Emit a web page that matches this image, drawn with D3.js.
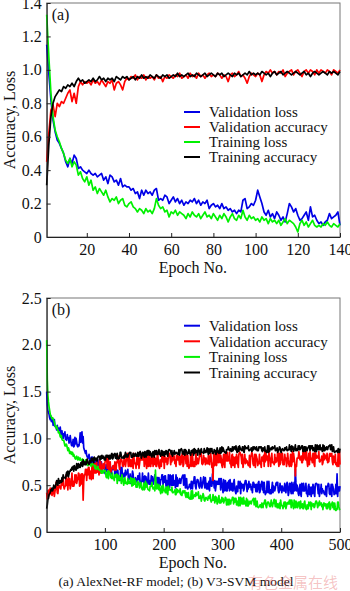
<!DOCTYPE html>
<html>
<head>
<meta charset="utf-8">
<script src="https://cdn.jsdelivr.net/npm/d3@7/dist/d3.min.js"></script>
<style>
  html, body { margin: 0; padding: 0; background: #fff; }
  svg { display: block; }
  text { font-family: "Liberation Serif", "Times New Roman", serif; fill: #111; }
</style>
</head>
<body>
<div id="chart"></div>
<script>
// ---------------- DATA ----------------
const seriesNames = ["Validation loss", "Validation accuracy", "Training loss", "Training accuracy"];
const seriesColors = ["#0000e6", "#ff0000", "#00f000", "#000000"];

const xTicksA = [20, 40, 60, 80, 100, 120, 140];
const yTicksA = [0, 0.2, 0.4, 0.6, 0.8, 1.0, 1.2, 1.4];
const xTicksB = [100, 200, 300, 400, 500];
const yTicksB = [0, 0.5, 1.0, 1.5, 2.0, 2.5];

// Panel (a): AlexNet-RF, epochs 1..140
const valLossA = [
1.15,0.98,0.82,0.7,0.63,0.58,0.56,0.53,0.5,0.45,
0.42,0.47,0.44,0.49,0.47,0.41,0.42,0.4,0.39,0.38,
0.4,0.38,0.37,0.38,0.36,0.37,0.38,0.34,0.36,0.32,
0.37,0.36,0.33,0.34,0.31,0.35,0.3,0.31,0.3,0.3,
0.28,0.29,0.26,0.27,0.23,0.28,0.25,0.28,0.26,0.27,
0.25,0.28,0.29,0.22,0.23,0.22,0.25,0.24,0.2,0.22,
0.24,0.21,0.23,0.2,0.22,0.19,0.21,0.2,0.22,0.21,
0.23,0.2,0.22,0.19,0.21,0.2,0.22,0.17,0.19,0.2,
0.18,0.19,0.17,0.2,0.17,0.18,0.16,0.17,0.15,0.16,
0.14,0.16,0.15,0.22,0.23,0.17,0.18,0.2,0.19,0.22,
0.28,0.24,0.2,0.15,0.13,0.16,0.12,0.14,0.11,0.15,
0.13,0.1,0.12,0.09,0.14,0.2,0.18,0.15,0.17,0.13,
0.1,0.11,0.13,0.15,0.1,0.18,0.12,0.13,0.1,0.08,
0.09,0.07,0.09,0.1,0.14,0.11,0.12,0.13,0.15,0.07];
const valAccA = [
0.45,0.62,0.76,0.79,0.72,0.8,0.78,0.81,0.8,0.83,
0.86,0.88,0.81,0.86,0.8,0.9,0.93,0.91,0.93,0.92,
0.93,0.91,0.94,0.92,0.93,0.91,0.94,0.92,0.9,0.93,
0.92,0.94,0.88,0.92,0.93,0.91,0.88,0.93,0.95,0.94,
0.96,0.95,0.97,0.94,0.96,0.95,0.97,0.94,0.96,0.95,
0.96,0.94,0.97,0.95,0.96,0.93,0.96,0.95,0.97,0.96,
0.95,0.97,0.96,0.98,0.95,0.96,0.97,0.95,0.98,0.96,
0.97,0.95,0.98,0.96,0.97,0.95,0.97,0.98,0.96,0.97,
0.96,0.98,0.97,0.95,0.97,0.96,0.93,0.97,0.98,0.96,
0.97,0.99,0.96,0.97,0.95,0.92,0.96,0.98,0.97,0.96,
0.98,0.97,0.93,0.97,0.99,0.98,1.0,0.98,0.99,0.97,
0.99,0.98,1.0,0.96,0.98,0.99,1.0,0.97,0.99,1.0,
0.98,0.96,0.99,1.0,0.98,1.0,0.99,0.97,1.0,0.98,
1.0,0.99,0.98,1.0,0.99,0.97,1.0,0.99,0.98,1.0];
const trainLossA = [
1.33,1.08,0.86,0.72,0.64,0.6,0.57,0.53,0.5,0.46,
0.44,0.47,0.42,0.45,0.43,0.37,0.39,0.35,0.33,0.36,
0.31,0.34,0.28,0.3,0.26,0.29,0.27,0.25,0.28,0.24,
0.21,0.23,0.22,0.24,0.2,0.22,0.23,0.19,0.18,0.2,
0.21,0.18,0.17,0.15,0.17,0.16,0.14,0.17,0.15,0.16,
0.14,0.17,0.23,0.19,0.17,0.18,0.15,0.16,0.12,0.15,
0.14,0.16,0.13,0.15,0.14,0.13,0.11,0.14,0.12,0.15,
0.13,0.12,0.14,0.11,0.13,0.15,0.12,0.13,0.11,0.14,
0.12,0.1,0.13,0.11,0.14,0.12,0.09,0.12,0.14,0.11,
0.1,0.13,0.11,0.16,0.12,0.1,0.13,0.11,0.12,0.1,
0.11,0.09,0.12,0.1,0.11,0.08,0.11,0.09,0.1,0.08,
0.1,0.07,0.09,0.11,0.08,0.1,0.09,0.08,0.06,0.03,
0.08,0.1,0.07,0.09,0.06,0.08,0.1,0.07,0.06,0.07,
0.06,0.08,0.07,0.09,0.07,0.06,0.08,0.07,0.06,0.08];
const trainAccA = [
0.31,0.55,0.72,0.8,0.84,0.86,0.88,0.87,0.9,0.89,
0.91,0.9,0.92,0.9,0.93,0.95,0.93,0.94,0.92,0.93,
0.94,0.93,0.95,0.93,0.94,0.96,0.94,0.95,0.93,0.95,
0.94,0.95,0.93,0.96,0.95,0.94,0.96,0.95,0.96,0.94,
0.95,0.96,0.94,0.96,0.95,0.97,0.95,0.96,0.95,0.97,
0.96,0.95,0.97,0.96,0.95,0.97,0.96,0.97,0.95,0.96,
0.97,0.96,0.98,0.96,0.97,0.96,0.97,0.98,0.96,0.97,
0.96,0.98,0.97,0.96,0.97,0.98,0.96,0.97,0.98,0.97,
0.96,0.98,0.97,0.98,0.96,0.97,0.98,0.97,0.96,0.98,
0.97,0.98,0.96,0.97,0.98,0.97,0.99,0.97,0.98,0.97,
0.98,0.97,0.99,0.98,0.97,0.98,0.96,0.98,0.99,0.97,
0.98,0.99,0.97,0.98,0.99,0.98,0.97,0.98,0.99,0.98,
0.97,0.98,0.99,0.97,0.98,0.96,0.98,0.99,0.98,0.97,
0.98,0.99,0.98,0.97,0.99,0.98,0.99,0.98,0.97,0.99];

// Panel (b): V3-SVM, epochs 1..500
const valLossB = [
1.5,1.36,1.3,1.27,1.26,1.22,1.2,1.24,1.18,1.2,
1.2,1.14,1.18,1.2,1.13,1.12,1.12,1.09,1.14,1.09,
1.11,1.08,1.09,1.12,1.06,1.01,1.08,1.0,1.0,1.05,
1.03,1.07,.99,.99,.98,1.04,1.0,1.01,.95,.97,
1.03,.98,.93,.92,.94,.99,.91,.92,1.01,.94,
1.0,.96,.92,.91,.93,.92,.98,1.06,.96,1.04,
1.07,.95,1.02,.9,.88,.86,.84,.87,.82,.8,
.80,.79,.83,.77,.73,.76,.80,.73,.80,.77,
.74,.74,.70,.78,.77,.68,.67,.77,.73,.71,
.71,.71,.70,.75,.68,.68,.68,.68,.69,.63,
.62,.72,.65,.70,.67,.69,.65,.72,.62,.64,
.62,.68,.70,.67,.68,.70,.62,.59,.67,.65,
.58,.66,.57,.58,.55,.57,.69,.55,.69,.57,
.59,.61,.63,.59,.66,.61,.63,.63,.67,.56,
.57,.58,.62,.52,.57,.58,.65,.62,.54,.52,
.56,.58,.56,.55,.53,.60,.60,.56,.63,.53,
.51,.54,.54,.63,.54,.59,.49,.60,.52,.59,
.49,.52,.55,.63,.51,.55,.51,.52,.60,.54,
.59,.51,.54,.56,.61,.59,.48,.48,.58,.58,
.48,.58,.53,.50,.56,.56,.61,.61,.50,.59,
.53,.60,.60,.49,.55,.50,.47,.61,.50,.47,
.61,.57,.50,.60,.50,.61,.50,.55,.53,.47,
.61,.49,.58,.49,.55,.52,.57,.53,.52,.57,
.58,.60,.61,.50,.55,.61,.47,.52,.57,.47,
.46,.48,.48,.51,.51,.46,.54,.51,.46,.54,
.52,.59,.59,.49,.46,.52,.56,.56,.54,.49,
.47,.50,.58,.51,.47,.51,.55,.59,.53,.47,
.58,.50,.46,.52,.46,.46,.54,.44,.58,.50,
.49,.49,.62,.52,.55,.47,.55,.44,.49,.54,
.51,.54,.51,.57,.51,.57,.45,.57,.51,.48,
.42,.56,.45,.44,.55,.52,.44,.44,.53,.47,
.55,.44,.56,.47,.45,.52,.44,.44,.53,.56,
.46,.43,.41,.49,.43,.43,.54,.49,.47,.54,
.41,.52,.47,.47,.51,.44,.46,.52,.55,.55,
.50,.43,.51,.46,.54,.48,.50,.51,.45,.48,
.42,.53,.53,.48,.51,.48,.43,.51,.43,.46,
.53,.54,.42,.43,.51,.51,.54,.45,.53,.42,
.53,.45,.40,.42,.42,.54,.46,.42,.54,.43,
.41,.45,.41,.47,.53,.42,.49,.47,.44,.47,
.52,.53,.50,.53,.44,.42,.44,.52,.45,.49,
.42,.49,.45,.44,.44,.52,.44,.42,.50,.53,
.47,.39,.42,.52,.52,.45,.41,.53,.50,.41,
.49,.53,.44,.67,.53,.44,.50,.47,.41,.39,
.46,.51,.41,.38,.52,.49,.44,.52,.44,.44,
.46,.52,.41,.43,.38,.49,.51,.40,.48,.44,
.38,.48,.41,.51,.48,.41,.38,.51,.52,.52,
.51,.48,.41,.51,.38,.43,.44,.51,.41,.46,
.43,.44,.41,.40,.40,.49,.38,.48,.49,.52,
.51,.41,.40,.44,.51,.38,.51,.48,.46,.40,
.43,.41,.51,.41,.62,.38,.48,.48,.44,.49];
const valAccB = [
.42,.35,.44,.38,.45,.40,.47,.41,.46,.39,
.41,.44,.48,.38,.43,.46,.53,.51,.42,.41,
.48,.50,.49,.47,.46,.53,.54,.50,.58,.48,
.46,.49,.49,.61,.50,.56,.45,.58,.50,.57,
.46,.50,.53,.63,.49,.54,.49,.51,.61,.53,
.61,.52,.55,.57,.63,.62,.49,.50,.61,.62,
.51,.62,.34,.54,.61,.61,.67,.67,.55,.67,
.61,.69,.69,.57,.65,.60,.56,.72,.61,.57,
.74,.69,.63,.73,.63,.75,.64,.69,.67,.61,
.77,.63,.75,.64,.71,.67,.73,.69,.68,.74,
.77,.78,.80,.68,.73,.80,.64,.69,.75,.64,
.66,.68,.68,.71,.71,.66,.75,.71,.66,.75,
.74,.81,.81,.71,.67,.74,.78,.78,.76,.71,
.70,.73,.82,.75,.70,.75,.79,.84,.77,.70,
.84,.75,.70,.77,.70,.70,.79,.68,.84,.75,
.73,.73,.68,.77,.81,.72,.81,.68,.73,.79,
.77,.81,.77,.84,.77,.84,.70,.84,.77,.73,
.68,.84,.72,.70,.82,.79,.70,.70,.81,.73,
.82,.70,.84,.73,.72,.79,.70,.70,.81,.84,
.73,.70,.68,.77,.70,.70,.82,.77,.75,.82,
.68,.81,.75,.75,.79,.72,.73,.81,.84,.84,
.79,.72,.81,.75,.84,.77,.79,.81,.73,.77,
.70,.82,.82,.77,.81,.77,.72,.81,.72,.75,
.82,.84,.70,.72,.81,.81,.84,.73,.82,.70,
.82,.73,.68,.70,.70,.84,.75,.70,.84,.72,
.70,.75,.70,.77,.84,.72,.79,.77,.73,.77,
.82,.84,.81,.84,.73,.72,.73,.82,.75,.79,
.72,.79,.75,.73,.73,.82,.73,.72,.81,.84,
.78,.69,.73,.55,.83,.76,.71,.85,.82,.71,
.80,.85,.74,.85,.85,.74,.82,.78,.71,.69,
.78,.83,.73,.69,.85,.82,.76,.85,.76,.76,
.78,.85,.73,.74,.69,.82,.83,.71,.80,.76,
.69,.80,.73,.83,.80,.73,.69,.83,.85,.85,
.83,.80,.73,.83,.69,.74,.76,.83,.73,.78,
.74,.76,.73,.71,.71,.82,.69,.80,.82,.85,
.83,.73,.71,.76,.83,.69,.83,.80,.78,.71,
.74,.73,.83,.73,.74,.69,.80,.80,.76,.82,
.70,.86,.75,.84,.77,.77,.81,.70,.86,.79,
.79,.70,.79,.84,.74,.74,.75,.72,.83,.74,
.79,.75,.79,.86,.77,.70,.84,.72,.74,.84,
.77,.84,.72,.72,.72,.83,.77,.79,.70,.74,
.84,.77,.72,.70,.74,.83,.70,.72,.86,.75,
.84,.79,.74,.60,.72,.70,.79,.79,.79,.86,
.81,.77,.77,.81,.74,.74,.86,.77,.84,.86,
.79,.77,.86,.75,.70,.75,.84,.72,.86,.81,
.77,.77,.74,.84,.84,.72,.70,.86,.83,.79,
.81,.81,.79,.86,.75,.75,.77,.77,.81,.72,
.74,.84,.77,.83,.79,.81,.77,.84,.74,.75,
.75,.83,.84,.81,.83,.84,.75,.72,.81,.79,
.74,.83,.72,.74,.70,.72,.86,.70,.86,.72];
const trainLossB = [
2.05,1.62,1.46,1.39,1.34,1.3,1.26,1.24,1.23,1.21,
1.22,1.21,1.19,1.18,1.14,1.13,1.11,1.13,1.1,1.09,
1.06,1.07,1.05,1.02,1.01,1.03,0.99,0.98,0.98,0.98,
.95,.92,.92,.94,.93,.9,.87,.9,.88,.84,
.86,.86,.83,.85,.85,.81,.83,.81,.79,.78,
.8,.81,.78,.77,.8,.79,.77,.79,.77,.76,
.76,.78,.75,.74,.73,.76,.77,.72,.75,.74,
.71,.74,.72,.74,.73,.71,.70,.73,.73,.72,
.72,.71,.68,.71,.67,.68,.68,.70,.67,.67,
.66,.66,.65,.63,.63,.66,.63,.65,.65,.66,
.65,.59,.58,.61,.65,.57,.65,.63,.63,.58,
.58,.57,.63,.57,.58,.55,.61,.61,.59,.62,
.52,.61,.55,.6,.56,.56,.58,.52,.61,.57,
.55,.50,.55,.58,.52,.52,.53,.51,.57,.52,
.54,.52,.54,.58,.53,.49,.57,.5,.51,.57,
.51,.55,.48,.48,.48,.54,.51,.52,.47,.49,
.53,.49,.46,.45,.47,.52,.45,.46,.54,.48,
.52,.49,.46,.45,.45,.44,.49,.49,.49,.53,
.48,.46,.46,.48,.44,.66,.51,.46,.5,.51,
.46,.45,.5,.44,.41,.44,.49,.42,.5,.47,
.44,.44,.42,.48,.48,.41,.40,.49,.47,.45,
.45,.45,.44,.48,.42,.42,.43,.43,.45,.40,
.40,.46,.42,.45,.43,.44,.42,.46,.40,.41,
.39,.43,.44,.42,.43,.44,.39,.37,.42,.41,
.37,.42,.36,.37,.35,.36,.44,.35,.44,.36,
.38,.39,.40,.38,.42,.39,.40,.40,.43,.36,
.36,.37,.39,.33,.36,.37,.41,.39,.34,.33,
.36,.37,.36,.35,.34,.38,.38,.36,.40,.34,
.32,.34,.34,.40,.34,.37,.31,.38,.33,.37,
.30,.32,.34,.39,.31,.34,.31,.32,.37,.33,
.36,.31,.33,.34,.37,.36,.29,.29,.35,.35,
.29,.35,.32,.30,.34,.34,.37,.37,.30,.36,
.32,.36,.36,.29,.33,.30,.28,.37,.30,.28,
.37,.34,.30,.36,.30,.37,.30,.33,.32,.28,
.36,.28,.34,.28,.32,.30,.33,.31,.30,.33,
.34,.35,.36,.29,.32,.36,.27,.30,.33,.27,
.26,.27,.27,.29,.29,.26,.31,.29,.26,.31,
.30,.34,.34,.28,.26,.30,.32,.32,.31,.28,
.27,.29,.34,.30,.27,.30,.32,.35,.31,.27,
.34,.29,.26,.30,.26,.26,.31,.25,.34,.29,
.28,.28,.25,.30,.32,.27,.32,.25,.28,.31,
.30,.32,.30,.34,.30,.34,.26,.34,.30,.28,
.25,.34,.27,.26,.33,.31,.26,.26,.32,.28,
.32,.25,.33,.27,.26,.30,.25,.25,.31,.33,
.27,.25,.24,.29,.25,.25,.32,.29,.28,.32,
.24,.31,.28,.28,.30,.26,.27,.31,.33,.33,
.30,.26,.31,.28,.33,.29,.30,.31,.27,.29,
.24,.31,.31,.28,.30,.28,.25,.30,.25,.27,
.31,.32,.24,.25,.30,.30,.32,.26,.31,.24,
.31,.26,.23,.24,.24,.32,.32,.27,.24,.25];
const trainAccB = [
.25,.29,.35,.36,.40,.41,.42,.45,.44,.47,
.44,.46,.50,.48,.47,.49,.52,.55,.52,.50,
.57,.53,.52,.55,.53,.53,.58,.54,.61,.58,
.58,.58,.57,.61,.64,.60,.65,.59,.62,.65,
.65,.67,.66,.69,.67,.70,.65,.71,.69,.67,
.66,.73,.68,.68,.73,.72,.69,.69,.74,.71,
.75,.70,.77,.72,.72,.75,.72,.72,.77,.78,
.74,.73,.72,.76,.74,.74,.79,.77,.76,.79,
.74,.80,.77,.77,.79,.76,.76,.80,.81,.81,
.80,.77,.81,.78,.82,.79,.80,.81,.77,.79,
.77,.82,.82,.80,.82,.80,.78,.82,.78,.79,
.83,.84,.78,.79,.83,.83,.84,.79,.83,.78,
.84,.80,.78,.79,.79,.85,.85,.81,.79,.80,
.79,.81,.79,.82,.85,.80,.83,.82,.80,.82,
.84,.85,.84,.85,.80,.80,.80,.84,.81,.83,
.81,.84,.82,.81,.81,.85,.81,.81,.85,.86,
.83,.79,.81,.85,.85,.82,.80,.86,.85,.80,
.85,.87,.82,.87,.87,.82,.86,.84,.81,.80,
.84,.86,.82,.80,.87,.86,.83,.87,.83,.83,
.85,.88,.83,.83,.81,.87,.87,.82,.86,.84,
.81,.86,.83,.87,.86,.83,.81,.87,.88,.88,
.87,.86,.83,.87,.81,.83,.84,.87,.83,.85,
.84,.85,.84,.83,.83,.88,.82,.87,.88,.89,
.88,.84,.83,.85,.88,.82,.88,.87,.86,.83,
.84,.84,.88,.84,.84,.82,.87,.87,.85,.88,
.82,.89,.84,.88,.85,.85,.87,.82,.89,.86,
.87,.83,.87,.89,.85,.85,.85,.84,.89,.85,
.87,.85,.87,.90,.86,.83,.89,.84,.85,.89,
.86,.89,.84,.84,.84,.88,.86,.87,.83,.85,
.90,.87,.85,.84,.86,.90,.84,.85,.91,.86,
.90,.88,.86,.85,.85,.84,.88,.88,.88,.91,
.89,.87,.87,.89,.86,.86,.91,.87,.90,.91,
.89,.88,.92,.87,.85,.87,.91,.86,.92,.90,
.88,.88,.87,.91,.91,.86,.85,.92,.91,.89,
.90,.90,.89,.92,.87,.87,.88,.88,.90,.86,
.87,.91,.88,.91,.89,.90,.88,.91,.87,.87,
.87,.91,.91,.90,.91,.91,.87,.86,.90,.89,
.87,.91,.86,.87,.85,.86,.92,.85,.92,.86,
.88,.89,.90,.88,.91,.89,.90,.90,.92,.87,
.87,.88,.90,.85,.87,.88,.91,.90,.86,.85,
.88,.89,.88,.87,.87,.90,.90,.88,.91,.87,
.87,.88,.88,.93,.88,.91,.86,.92,.88,.91,
.86,.88,.89,.93,.87,.89,.87,.88,.92,.88,
.92,.88,.89,.90,.92,.92,.86,.86,.91,.91,
.86,.91,.88,.87,.90,.90,.92,.92,.87,.92,
.89,.92,.92,.87,.90,.88,.86,.93,.88,.86,
.93,.91,.88,.92,.88,.93,.88,.90,.89,.86,
.93,.87,.92,.87,.90,.88,.91,.89,.88,.91,
.92,.92,.93,.88,.90,.93,.86,.88,.91,.86,
.85,.86,.86,.87,.87,.85,.89,.87,.85,.89];

const panelA = { label: "(a)", series: [valLossA, valAccA, trainLossA, trainAccA],
  xDomain: [1, 140], yDomain: [0, 1.4], xTicks: xTicksA, yTicks: yTicksA };
const panelB = { label: "(b)", series: [valLossB, valAccB, trainLossB, trainAccB],
  xDomain: [1, 500], yDomain: [0, 2.5], xTicks: xTicksB, yTicks: yTicksB };

// ---------------- LAYOUT ----------------
const W = 350, H = 591;
const FS = "16px";
const LFS = "15px";
const svg = d3.select("#chart").append("svg").attr("width", W).attr("height", H);

const layouts = [
  { p: panelA, left: 46.7, right: 340, top: 3, bottom: 237, legendY: 112, legendStep: 15 },
  { p: panelB, left: 46.7, right: 340, top: 298, bottom: 532, legendY: 325.7, legendStep: 15.6 }
];

const yFmt = d => d === 0 ? "0" : d3.format(".1f")(d);

layouts.forEach(L => {
  const p = L.p;
  const x = d3.scaleLinear().domain(p.xDomain).range([L.left, L.right]);
  const y = d3.scaleLinear().domain(p.yDomain).range([L.bottom, L.top]);
  const g = svg.append("g");

  // frame
  g.append("rect").attr("x", L.left).attr("y", L.top)
    .attr("width", L.right - L.left).attr("height", L.bottom - L.top)
    .attr("fill", "none").attr("stroke", "#777").attr("stroke-width", 1);

  // lines
  const line = d3.line().x((d, i) => x(i + 1)).y(d => y(d));
  p.series.forEach((s, k) => {
    g.append("path").datum(s).attr("d", line)
      .attr("fill", "none").attr("stroke", seriesColors[k])
      .attr("stroke-width", 1.7).attr("stroke-linejoin", "round");
  });

  // axes
  const xa = g.append("g").attr("transform", `translate(0,${L.bottom})`)
    .call(d3.axisBottom(x).tickValues(p.xTicks).tickSize(-4).tickPadding(7).tickSizeOuter(0));
  const ya = g.append("g").attr("transform", `translate(${L.left},0)`)
    .call(d3.axisLeft(y).tickValues(p.yTicks).tickFormat(yFmt).tickSize(-4).tickPadding(5).tickSizeOuter(0));
  [xa, ya].forEach(a => {
    a.selectAll("text").style("font-family", '"Liberation Serif", serif').style("font-size", FS).attr("fill", "#111");
    a.select(".domain").attr("stroke", "#222");
    a.selectAll(".tick line").attr("stroke", "#222");
  });

  // axis titles
  g.append("text").attr("x", (L.left + L.right) / 2 - 0.5).attr("y", L.bottom + 36)
    .attr("text-anchor", "middle").style("font-size", FS).text("Epoch No.");
  g.append("text").attr("transform", `translate(15,${(L.top + L.bottom) / 2}) rotate(-90)`)
    .attr("text-anchor", "middle").style("font-size", FS).text("Accuracy, Loss");

  // panel label
  g.append("text").attr("x", L.left + 5).attr("y", L.top + 17)
    .style("font-size", FS).text(p.label);

  // legend
  seriesNames.forEach((n, k) => {
    const yy = L.legendY + k * L.legendStep;
    g.append("line").attr("x1", 184).attr("x2", 200).attr("y1", yy).attr("y2", yy)
      .attr("stroke", seriesColors[k]).attr("stroke-width", 2);
    g.append("text").attr("x", 209).attr("y", yy).attr("dy", "0.35em")
      .style("font-size", LFS).text(n);
  });
});

// caption + watermark
svg.append("text").attr("x", 176).attr("y", 586).attr("text-anchor", "middle")
  .style("font-size", "13.5px").text("(a) AlexNet-RF model; (b) V3-SVM model");
svg.append("text").attr("x", 248).attr("y", 588)
  .style("font-family", '"Noto Sans CJK SC", sans-serif').style("font-size", "15px")
  .style("fill", "rgba(225,70,70,0.32)").text("有色金属在线");
</script>
</body>
</html>
